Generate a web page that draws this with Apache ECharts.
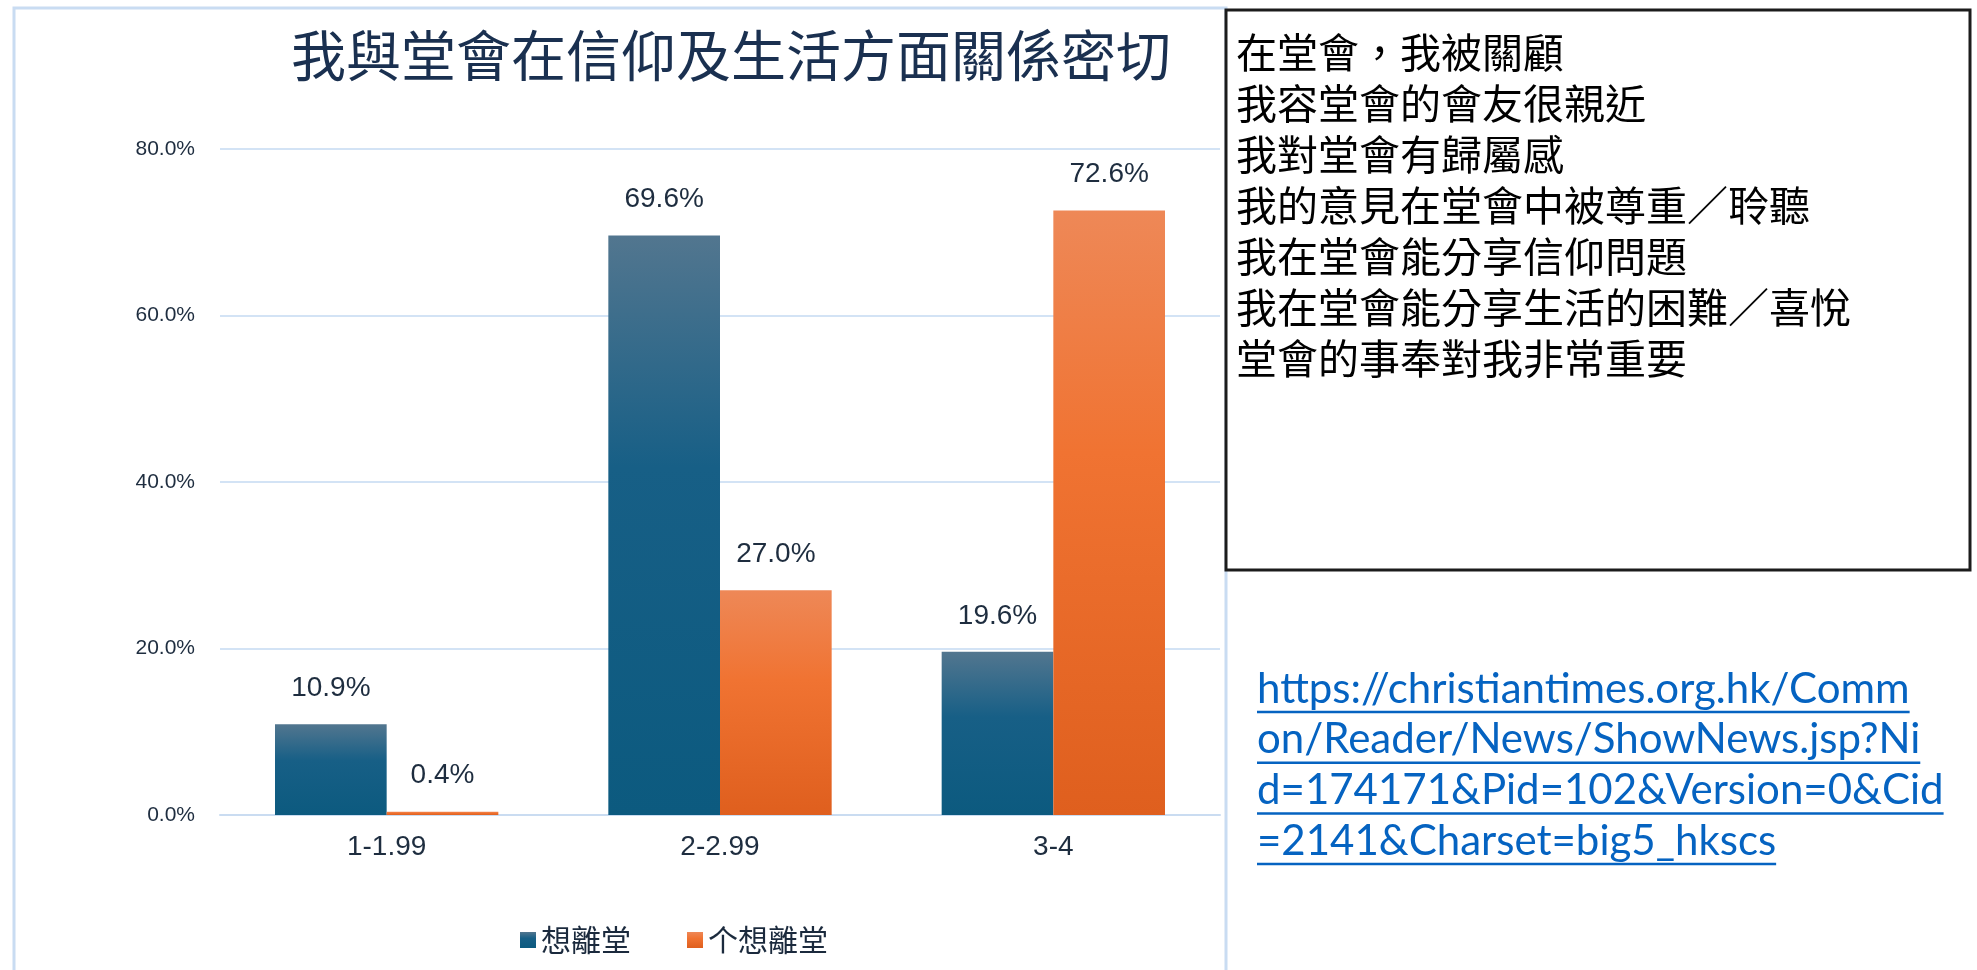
<!DOCTYPE html>
<html>
<head>
    <meta charset="utf-8">
    <title>我與堂會在信仰及生活方面關係密切</title>
    <script src="https://cdn.jsdelivr.net/npm/echarts@6/dist/echarts.min.js"></script>
    <style>
        html, body { margin: 0; padding: 0; background: #fff; }
        #chart { width: 1977px; height: 970px; }
    </style>
</head>
<body>
<div id="chart"></div>
<script type="text/javascript">
    // 資料
    var categories = ['1-1.99', '2-2.99', '3-4'];
    var seriesNames = ['想離堂', '个想離堂'];
    var leaveValues = [10.9, 69.6, 19.6];
    var stayValues = [0.4, 27.0, 72.6];
    var yTicks = [0, 20, 40, 60, 80];
    var boxLines = [
        '在堂會，我被關顧',
        '我容堂會的會友很親近',
        '我對堂會有歸屬感',
        '我的意見在堂會中被尊重／聆聽',
        '我在堂會能分享信仰問題',
        '我在堂會能分享生活的困難／喜悅',
        '堂會的事奉對我非常重要'
    ];
    var linkLines = [
        'https://christiantimes.org.hk/Comm',
        'on/Reader/News/ShowNews.jsp?Ni',
        'd=174171&Pid=102&Version=0&Cid',
        '=2141&Charset=big5_hkscs'
    ];

    var cjkFont = '"Noto Sans CJK TC", "Noto Sans CJK SC", sans-serif';
    var armFont = '"Liberation Sans", Arial, sans-serif';
    var linkFont = 'Lato, "Open Sans", sans-serif';
    var linkSize = 42;

    var blueFill = new echarts.graphic.LinearGradient(0, 0, 0, 1, [
        { offset: 0, color: '#52768f' },
        { offset: 0.4, color: '#175f86' },
        { offset: 1, color: '#0c5a7f' }
    ]);
    var orangeFill = new echarts.graphic.LinearGradient(0, 0, 0, 1, [
        { offset: 0, color: '#ee8857' },
        { offset: 0.4, color: '#f07332' },
        { offset: 1, color: '#df5f1e' }
    ]);

    function pct(v) { return v.toFixed(1) + '%'; }

    // 量文字寬度，畫超連結底線
    var ctx = document.createElement('canvas').getContext('2d');
    ctx.font = linkSize + 'px ' + linkFont;

    var graphics = [
        {
            type: 'rect', z: 0, silent: true,
            shape: { x: 14, y: 8, width: 1212, height: 1000 },
            style: { fill: 'none', stroke: '#c9dcf2', lineWidth: 3 }
        },
        {
            type: 'rect', z: 10, silent: true,
            shape: { x: 1226, y: 10, width: 744, height: 560 },
            style: { fill: '#fff', stroke: '#1c1c1c', lineWidth: 3 }
        },
        {
            // 標題
            type: 'text', z: 11, silent: true,
            style: {
                text: '我與堂會在信仰及生活方面關係密切', x: 731, y: 55,
                fill: '#1a3050', font: 'normal 55px ' + cjkFont,
                align: 'center', verticalAlign: 'middle'
            }
        }
    ];

    boxLines.forEach(function (t, i) {
        graphics.push({
            type: 'text', z: 11, silent: true,
            style: {
                text: t, x: 1236, y: 52 + i * 51,
                fill: '#000', font: 'normal 41px ' + cjkFont,
                align: 'left', verticalAlign: 'middle'
            }
        });
    });

    linkLines.forEach(function (t, i) {
        var base = 703 + i * 50.7;
        var w = ctx.measureText(t).width;
        graphics.push({
            type: 'text', z: 11, silent: true,
            style: {
                text: t, x: 1257, y: base - linkSize * 0.33,
                fill: '#0563c1', font: 'normal ' + linkSize + 'px ' + linkFont,
                align: 'left', verticalAlign: 'middle'
            }
        });
        graphics.push({
            type: 'line', z: 11, silent: true,
            shape: { x1: 1257, y1: base + 9, x2: 1257 + w, y2: base + 9 },
            style: { stroke: '#0563c1', lineWidth: 2.5 }
        });
    });

    var myChart = echarts.init(document.getElementById('chart'));
    myChart.setOption({
        animation: false,
        backgroundColor: '#fff',
        graphic: graphics,
        legend: {
            data: seriesNames,
            left: 520,
            top: 925,
            padding: 0,
            itemWidth: 16,
            itemHeight: 16,
            itemGap: 56,
            icon: 'rect',
            textStyle: { fontFamily: cjkFont, fontSize: 30, color: '#1b2a3d' }
        },
        grid: { left: 220, right: 757, top: 149, bottom: 155, containLabel: false },
        xAxis: {
            type: 'category',
            data: categories,
            axisLine: { lineStyle: { color: '#cadcf1', width: 2 } },
            axisTick: { show: false },
            axisLabel: { fontFamily: armFont, fontSize: 28, color: '#1e2d3f', margin: 18 }
        },
        yAxis: {
            type: 'value',
            min: yTicks[0],
            max: yTicks[yTicks.length - 1],
            interval: yTicks[1] - yTicks[0],
            axisLine: { show: false },
            axisTick: { show: false },
            splitLine: { lineStyle: { color: '#d3e3f5', width: 2 } },
            axisLabel: {
                fontFamily: armFont, fontSize: 21, color: '#1e2d3f', margin: 25,
                formatter: function (v) { return pct(v); }
            }
        },
        series: [
            {
                name: seriesNames[0],
                type: 'bar',
                data: leaveValues,
                barGap: '0%',
                barCategoryGap: '33%',
                itemStyle: { color: blueFill },
                label: {
                    show: true, position: 'top', distance: 22,
                    fontFamily: armFont, fontSize: 28, color: '#1e2d3f',
                    formatter: function (p) { return pct(p.value); }
                }
            },
            {
                name: seriesNames[1],
                type: 'bar',
                data: stayValues,
                itemStyle: { color: orangeFill },
                label: {
                    show: true, position: 'top', distance: 22,
                    fontFamily: armFont, fontSize: 28, color: '#1e2d3f',
                    formatter: function (p) { return pct(p.value); }
                }
            }
        ]
    });
</script>
</body>
</html>
